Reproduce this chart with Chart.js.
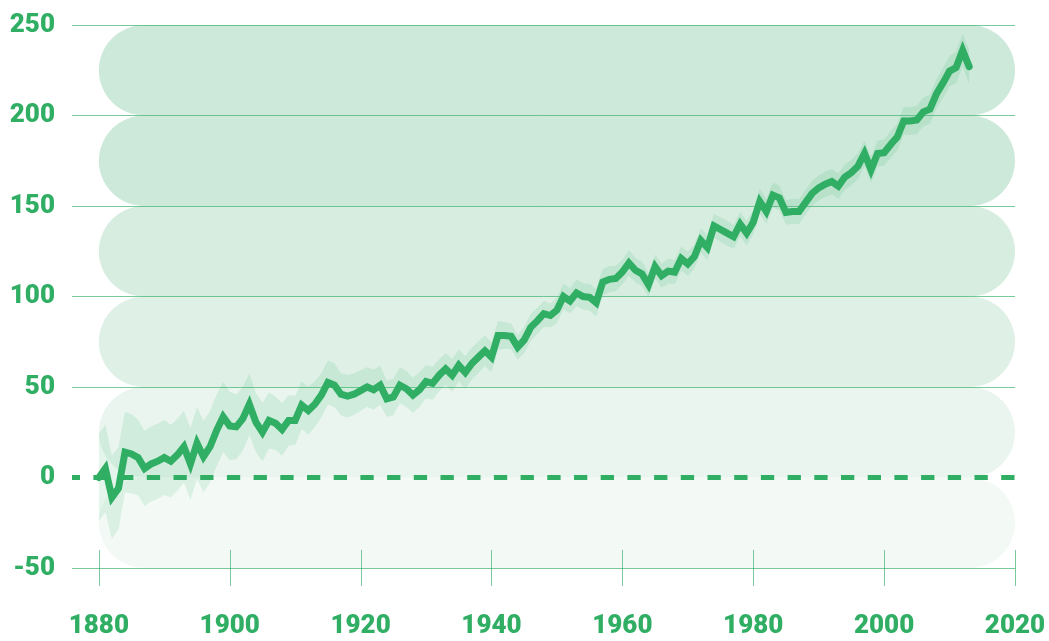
<!DOCTYPE html>
<html>
<head>
<meta charset="utf-8">
<script src="https://cdn.jsdelivr.net/npm/chart.js@4.4.1/dist/chart.umd.min.js"></script>
<style>
  html, body { margin: 0; padding: 0; background: #ffffff; }
  canvas { display: block; }
</style>
</head>
<body>
<canvas id="chart" width="1049" height="641"></canvas>
<script>
// ---- data (mm, relative to 1880) ----
const firstYear = 1880;
const seaLevel = [
  0, 5, -11, -6, 14, 13, 11, 5, 7.5, 9,
  11, 9, 12.5, 17, 7.5, 19, 11.5, 17, 26, 33.5,
  28.5, 28, 32.5, 40.5, 30.5, 25, 31.5, 30, 26.5, 31.5,
  31.5, 40, 37, 40.5, 45.5, 52.5, 51, 46, 45, 46,
  48, 50, 48.5, 51, 43.5, 44.5, 51, 49, 45.5, 48.5,
  53, 52, 56.5, 60, 56.5, 62, 58, 63, 66.5, 70,
  66.5, 78.5, 78.5, 78, 72, 76, 83, 86.5, 90.5, 89.5,
  92.5, 100, 97.5, 102, 100, 99.5, 96.5, 108, 109.5, 110,
  113.5, 118.5, 114.5, 112.5, 106.5, 116.5, 111.5, 114, 113.5, 121,
  118, 122, 131, 127, 139, 137, 135, 133, 140, 135,
  141, 152.5, 147, 156, 154.5, 146.5, 147, 147, 152, 157,
  160, 162, 163.5, 161, 166, 168.5, 172, 179, 170, 179,
  179.5, 184, 188, 197, 197, 197.5, 202, 203.5, 212, 218,
  224.5, 226.5, 236, 227
];
const uncertainty = [
  24.2, 24.2, 23, 22.8, 22.2, 21.9, 20.8, 20.8, 20.8, 20.8,
  20.7, 20, 19.9, 19.8, 19.8, 19.8, 19.8, 19.8, 19.8, 19.4,
  18.9, 17.9, 17.6, 16.9, 16.3, 16.1, 15.5, 14.7, 14.5, 14,
  13.5, 13.2, 13.2, 12.6, 12.2, 12.1, 12, 11.6, 11.8, 11.4,
  11.3, 10.9, 11.1, 10.8, 10, 10.1, 10, 9.9, 9.8, 9.6,
  9.2, 9, 8.8, 8.8, 9, 8.8, 9, 8.8, 8.8, 8.4,
  8.2, 8, 7.4, 7.1, 6.8, 7.3, 7.4, 7.4, 7.2, 6.6,
  7.1, 7.1, 7, 7.4, 7.3, 7.4, 7.6, 7.4, 7.2, 7,
  6.8, 7, 6.8, 6.7, 6.6, 6.5, 6.6, 6.8, 6.6, 6.6,
  6.7, 6.7, 6.7, 6.8, 6.6, 6.8, 6.8, 6.6, 6.8, 6.7,
  6.8, 6.9, 6.8, 6.8, 6.8, 6.8, 6.8, 6.9, 6.9, 6.9,
  6.9, 7, 7, 7, 7, 7, 7.1, 7.1, 7.2, 7.2,
  7.3, 7.4, 7.5, 7.6, 7.7, 7.8, 7.9, 8, 8.1, 8.3,
  8.5, 8.8, 9, 9.5
];
const xTickLabels = [1880, 1900, 1920, 1940, 1960, 1980, 2000, 2020];
const yTickLabels = [-50, 0, 50, 100, 150, 200, 250];

// ---- styles ----
const GREEN = '#2fae64';
const GRID = 'rgba(47,174,100,0.65)';
const BAND_FILL = 'rgba(47,174,100,0.13)';
const PILL_COLORS = ['#f3faf6', '#e9f5ee', '#dff0e7', '#d6ede0', '#cde9da', '#cde9da'];

const years = seaLevel.map((_, i) => firstYear + i);
const linePts = years.map((yr, i) => ({ x: yr, y: seaLevel[i] }));
const lowerPts = years.map((yr, i) => ({ x: yr, y: seaLevel[i] - uncertainty[i] }));
const upperPts = years.map((yr, i) => ({ x: yr, y: seaLevel[i] + uncertainty[i] }));

function pill(ctx, x0, y0, x1, y1) {
  const r = (y1 - y0) / 2;
  ctx.beginPath();
  ctx.moveTo(x0 + r, y0);
  ctx.lineTo(x1 - r, y0);
  ctx.arc(x1 - r, y0 + r, r, -Math.PI / 2, Math.PI / 2);
  ctx.lineTo(x0 + r, y1);
  ctx.arc(x0 + r, y0 + r, r, Math.PI / 2, Math.PI * 1.5);
  ctx.closePath();
  ctx.fill();
}

const deco = {
  id: 'deco',
  beforeDraw(chart) {
    const { ctx, chartArea: a, scales: { x, y } } = chart;
    const left = x.getPixelForValue(xTickLabels[0]);
    const right = a.right;
    ctx.save();
    for (let i = 0; i < yTickLabels.length - 1; i++) {
      const top = y.getPixelForValue(yTickLabels[i + 1]);
      const bot = y.getPixelForValue(yTickLabels[i]);
      ctx.fillStyle = PILL_COLORS[i];
      pill(ctx, left, top, right, bot);
    }
    ctx.restore();
  },
  beforeDatasetsDraw(chart) {
    const { ctx, scales: { x, y } } = chart;
    const yb = y.getPixelForValue(yTickLabels[0]);
    ctx.save();
    ctx.strokeStyle = GRID;
    ctx.lineWidth = 1;
    xTickLabels.forEach(v => {
      const px = Math.round(x.getPixelForValue(v)) + 0.5;
      ctx.beginPath();
      ctx.moveTo(px, yb - 18);
      ctx.lineTo(px, yb + 18);
      ctx.stroke();
    });
    ctx.restore();
  },
  beforeDatasetDraw(chart, args) {
    if (args.index !== 0) return;
    const { ctx, chartArea: a, scales: { y } } = chart;
    const y0 = y.getPixelForValue(0);
    ctx.save();
    ctx.strokeStyle = GREEN;
    ctx.lineWidth = 5;
    ctx.setLineDash([13.3, 13.4]);
    ctx.lineDashOffset = 5.3;
    ctx.beginPath();
    ctx.moveTo(a.left, y0);
    ctx.lineTo(a.right, y0);
    ctx.stroke();
    ctx.restore();
  }
};

new Chart(document.getElementById('chart'), {
  type: 'line',
  data: {
    datasets: [
      {
        data: linePts,
        borderColor: GREEN,
        borderWidth: 7,
        borderCapStyle: 'round',
        borderJoinStyle: 'miter',
        pointRadius: 0,
        tension: 0,
        fill: false
      },
      {
        data: lowerPts,
        borderWidth: 0,
        borderColor: 'rgba(0,0,0,0)',
        pointRadius: 0,
        tension: 0,
        fill: false
      },
      {
        data: upperPts,
        borderWidth: 0,
        borderColor: 'rgba(0,0,0,0)',
        backgroundColor: BAND_FILL,
        pointRadius: 0,
        tension: 0,
        fill: '-1'
      }
    ]
  },
  options: {
    responsive: false,
    animation: false,
    devicePixelRatio: 1,
    layout: { padding: { top: 25, right: 34, bottom: 0, left: 0 } },
    plugins: { legend: { display: false }, tooltip: { enabled: false } },
    scales: {
      x: {
        type: 'linear',
        min: 1875.9,
        max: 2020,
        afterBuildTicks: s => { s.ticks = xTickLabels.map(v => ({ value: v })); },
        afterFit: s => { s.height = 73; s.paddingLeft = 0; s.paddingRight = 0; },
        grid: { display: false, drawTicks: false },
        border: { display: false },
        ticks: {
          padding: 43,
          color: GREEN,
          font: { family: 'Roboto', weight: '900', size: 26 },
          maxRotation: 0,
          autoSkip: false,
          callback: v => String(v)
        }
      },
      y: {
        type: 'linear',
        min: -50,
        max: 250,
        afterBuildTicks: s => { s.ticks = yTickLabels.map(v => ({ value: v })); },
        afterFit: s => { s.width = 72; s.paddingTop = 0; s.paddingBottom = 0; },
        grid: {
          drawTicks: false,
          lineWidth: 1,
          color: c => (c.tick && c.tick.value === 0 ? 'rgba(0,0,0,0)' : GRID)
        },
        border: { display: false },
        ticks: {
          padding: 17,
          color: GREEN,
          font: { family: 'Roboto', weight: '900', size: 26 },
          callback: v => String(v)
        }
      }
    }
  },
  plugins: [deco]
});
</script>
</body>
</html>
